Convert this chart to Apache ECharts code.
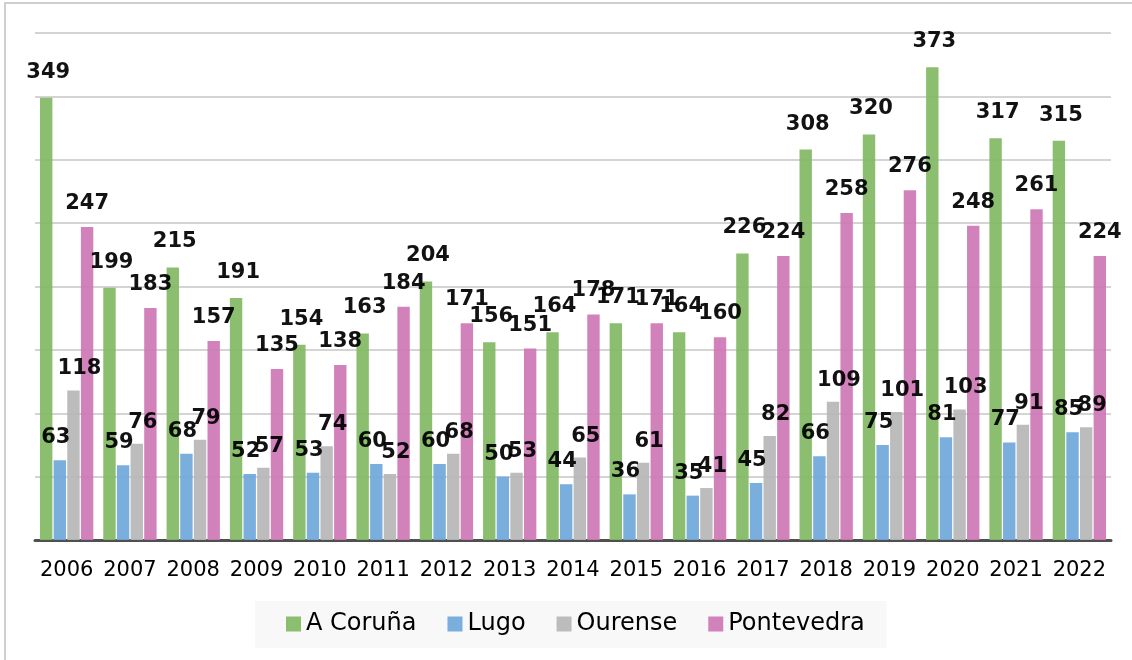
<!DOCTYPE html>
<html><head><meta charset="utf-8">
<script src="https://cdn.jsdelivr.net/npm/echarts@6/dist/echarts.min.js"></script>
<style>html,body{margin:0;padding:0;background:#fff}#c{width:1132px;height:660px}</style>
</head><body><div id="c"></div>
<script>
const years = ['2006','2007','2008','2009','2010','2011','2012','2013','2014','2015','2016','2017','2018','2019','2020','2021','2022'];
const seriesNames = ['A Coruña','Lugo','Ourense','Pontevedra'];
const coruna = [349,199,215,191,154,163,204,156,164,171,164,226,308,320,373,317,315];
const lugo = [63,59,68,52,53,60,60,50,44,36,35,45,66,75,81,77,85];
const ourense = [118,76,79,57,74,52,68,53,65,61,41,82,109,101,103,91,89];
const pontevedra = [247,183,157,135,138,184,171,151,178,171,160,224,258,276,248,261,224];

const colors = ['#82b964','#70a8da','#b8b7b7','#cf79b6'];
const values = [coruna, lugo, ourense, pontevedra];
const labelOffsets = [[2,0],[-4,0],[6,-4],[0,0]];
const labelDist = [15,12,7,13];

const chart = echarts.init(document.getElementById('c'));
chart.setOption({
  animation:false,
  graphic:[{type:'polyline',shape:{points:[[5,700],[5,3],[1200,3]]},style:{fill:'none',stroke:'#cfcfcf',lineWidth:2},z:-10}],
  grid:{left:35,right:21,top:33,bottom:120},
  legend:{
    data:seriesNames,
    left:255, top:601,
    backgroundColor:'#f8f8f8',
    padding:[11,22,12,31],
    itemWidth:15,itemHeight:15,itemGap:31,
    icon:'rect',
    textStyle:{fontFamily:'DejaVu Sans',fontSize:24,color:'#000'}
  },
  xAxis:{
    type:'category',data:years,
    axisLine:{lineStyle:{color:'#505050',width:3}},
    axisTick:{show:false},
    axisLabel:{interval:0,fontFamily:'DejaVu Sans',fontSize:21,color:'#000',margin:20}
  },
  yAxis:{
    type:'value',min:0,max:400,interval:50,
    axisLabel:{show:false},axisLine:{show:false},axisTick:{show:false},
    splitLine:{lineStyle:{color:'#d4d4d4',width:2}}
  },
  series: seriesNames.map((n,i)=>({
    name:n,type:'bar',data:values[i],
    barWidth:12.4,barGap:'10%',
    itemStyle:{color:colors[i],opacity:0.93},
    label:{show:true,position:'top',distance:labelDist[i],offset:labelOffsets[i],
      fontFamily:'DejaVu Sans',fontWeight:'bold',fontSize:21,color:'#000'}
  }))
});
</script></body></html>
